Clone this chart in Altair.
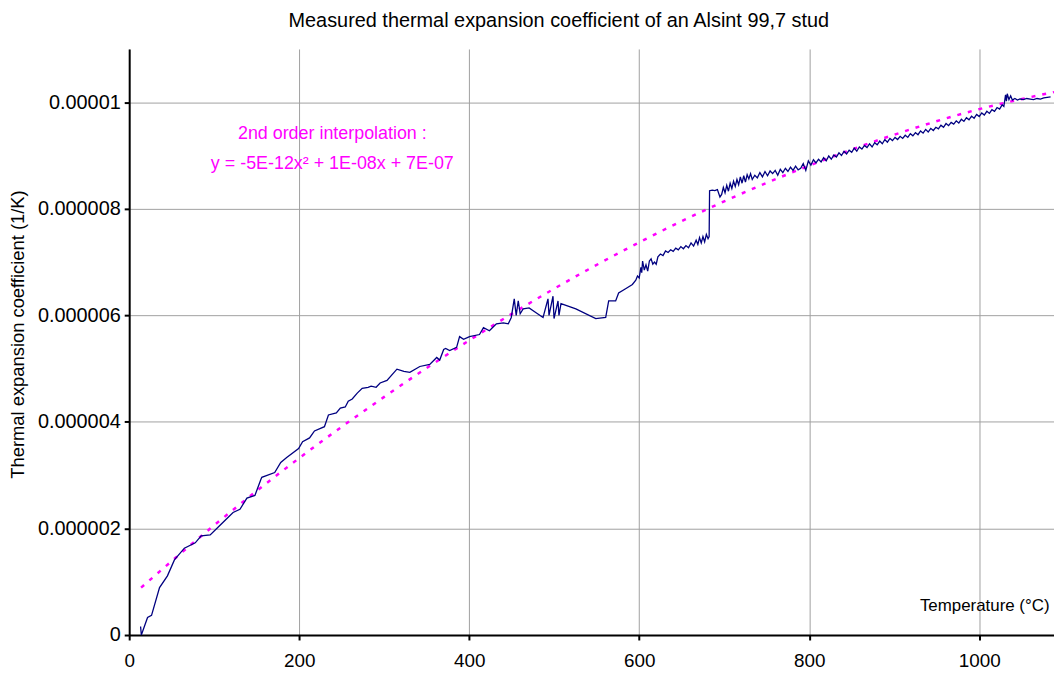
import altair as alt
import pandas as pd

# Measured curve (temperature °C, coefficient in 1e-6 /K)
meas_t = [13.4, 14.3, 21.6, 26.3, 35.7, 45.0, 53.2, 64.9, 77.7, 84.7, 95.3, 108.1, 122.2, 130.3, 138.5,
          147.9, 154.9, 156.0, 171.2, 178.3, 185.3, 199.3, 204.0, 212.2, 218.0, 229.7, 234.4, 243.7, 248.4,
          254.2, 257.7, 262.4, 268.3, 274.1, 281.1, 284.6, 290.5, 295.2, 303.3, 315.0, 323.2, 330.2, 341.9,
          353.6, 361.8, 365.3, 370.0, 372.3, 377.0, 385.2, 388.7, 393.4, 400.4, 412.1, 416.8, 423.8, 432.0,
          440.2, 446.0, 449.5, 453.0, 455.3, 457.7, 460.0, 463.5, 470.5, 478.7, 486.9, 492.7, 493.9, 498.6,
          499.8, 504.5, 505.6, 508.0, 525.5, 548.9, 560.6, 564.1, 572.3, 575.8, 584.0, 592.0,
          596, 598, 600, 602, 603, 604, 606, 608, 610, 612, 614, 616, 618, 620, 622, 625, 628, 631, 634,
          637, 640, 643, 646, 649, 652, 655, 658, 661, 664, 667, 669, 671, 673, 675, 677, 679, 681, 682.3,
          682.8, 686, 689, 692, 695, 697, 699, 701, 703, 705, 707, 709, 711, 713, 715, 717, 719, 721, 723,
          725, 727, 729, 731, 733, 736, 739, 742, 745, 748, 751, 754, 757, 760, 763, 766, 769, 772, 775, 778,
          781, 784, 787, 790, 793, 796, 799, 802, 805, 808, 811, 814, 817, 820, 823, 826, 829, 832, 835, 838,
          841, 844, 847, 850, 853, 856, 859, 862, 865, 868, 871, 874, 877, 880, 883, 886, 889, 892, 895, 898,
          901, 904, 907, 910, 913, 916, 919, 922, 925, 928, 931, 934, 937, 940, 943, 946, 949, 952, 955, 958,
          961, 964, 967, 970, 973, 976, 979, 982, 985, 988, 991, 994, 997, 1000, 1003, 1006, 1009, 1012,
          1015, 1018, 1021, 1024, 1027, 1029, 1031, 1032, 1033, 1035, 1037, 1039, 1042, 1045, 1048, 1052,
          1056, 1060, 1064, 1068, 1072, 1076, 1080, 1084]
meas_v = [0.16, 0.00, 0.33, 0.37, 0.89, 1.11, 1.41, 1.63, 1.73, 1.86, 1.88, 2.08, 2.30, 2.36, 2.57,
          2.62, 2.92, 2.96, 3.05, 3.24, 3.33, 3.50, 3.63, 3.70, 3.83, 3.91, 4.13, 4.17, 4.26,
          4.28, 4.39, 4.43, 4.54, 4.63, 4.65, 4.67, 4.65, 4.73, 4.78, 4.99, 4.95, 4.93, 5.04,
          5.08, 5.21, 5.16, 5.36, 5.38, 5.34, 5.40, 5.60, 5.55, 5.60, 5.64, 5.77, 5.71, 5.84,
          5.86, 5.84, 5.96, 6.31, 6.00, 6.27, 6.03, 6.12, 6.14, 6.05, 5.96, 6.31, 6.00, 6.36,
          5.94, 6.27, 6.00, 6.22, 6.12, 5.94, 5.96, 6.27, 6.27, 6.42, 6.50, 6.58,
          6.66, 6.74, 6.70, 6.90, 6.80, 7.02, 6.85, 6.95, 6.83, 7.02, 7.06, 6.96, 7.00, 6.96, 7.10, 7.15,
          7.12, 7.21, 7.18, 7.23, 7.20, 7.26, 7.23, 7.29, 7.25, 7.31, 7.27, 7.36, 7.30, 7.41, 7.33, 7.46,
          7.36, 7.48, 7.38, 7.52, 7.44, 7.48,
          8.34, 8.35, 8.34, 8.36, 8.22, 8.27, 8.40, 8.30, 8.44, 8.33, 8.48, 8.38, 8.52, 8.42, 8.55, 8.45,
          8.60, 8.48, 8.62, 8.50, 8.64, 8.56, 8.66, 8.55, 8.63, 8.58, 8.68, 8.60, 8.70, 8.62, 8.71, 8.66,
          8.72, 8.63, 8.74, 8.68, 8.76, 8.70, 8.78, 8.72, 8.80, 8.73, 8.76, 8.85, 8.72, 8.90, 8.82, 8.92,
          8.86, 8.93, 8.88, 8.96, 8.90, 8.99, 8.93, 9.01, 8.97, 9.05, 9.00, 9.08, 9.03, 9.10, 9.06, 9.14,
          9.08, 9.16, 9.12, 9.19, 9.15, 9.22, 9.16, 9.24, 9.20, 9.27, 9.22, 9.30, 9.25, 9.32, 9.28, 9.34,
          9.30, 9.36, 9.32, 9.38, 9.34, 9.41, 9.37, 9.43, 9.39, 9.46, 9.42, 9.49, 9.44, 9.51, 9.47, 9.53,
          9.50, 9.57, 9.53, 9.60, 9.56, 9.62, 9.59, 9.65, 9.61, 9.68, 9.64, 9.71, 9.67, 9.74, 9.70, 9.77,
          9.73, 9.80, 9.76, 9.83, 9.79, 9.86, 9.83, 9.90, 9.87, 9.95, 9.92, 10.14, 10.02, 10.16, 10.05,
          10.12, 10.04, 10.07, 10.04, 10.06, 10.05, 10.07, 10.06, 10.05, 10.07, 10.06, 10.08, 10.09, 10.10]

# Trend line
trend_t = [14, 100, 200, 300, 400, 500, 600, 700, 800, 900, 1000, 1088]
trend_v = [0.89, 2.06, 3.32, 4.47, 5.53, 6.50, 7.37, 8.14, 8.81, 9.39, 9.87, 10.19]

x_ticks = [0, 200, 400, 600, 800, 1000]
y_ticks = [0, 0.000002, 0.000004, 0.000006, 0.000008, 0.00001]

FONT = "Liberation Sans"

meas = pd.DataFrame({"t": meas_t, "v": [v * 1e-6 for v in meas_v], "i": list(range(len(meas_t)))})
trend = pd.DataFrame({"t": trend_t, "v": [v * 1e-6 for v in trend_v]})
ann = pd.DataFrame({"t": [239, 239], "v": [9.40e-6, 8.84e-6],
                    "txt": ["2nd order interpolation :", "y = -5E-12x² + 1E-08x + 7E-07"]})

xs = alt.Scale(domain=[0, 1088], nice=False, zero=False)
ys = alt.Scale(domain=[0, 0.000011], nice=False)

x_axis = alt.Axis(values=x_ticks, title="Temperature (°C)", titleAnchor="end", titleAlign="right",
                  titleX=926, titleY=-21, titleBaseline="bottom", titleFontSize=17,
                  titleFontWeight="normal", labelFontSize=19, labelPadding=12, format="d",
                  labelFlush=False)
y_axis = alt.Axis(values=y_ticks, title="Thermal expansion coefficient (1/K)", format=".6~f",
                  titleX=-112, titleY=287, titleAlign="center", titleBaseline="middle",
                  titleAngle=270, titleFontSize=18.5, titleFontWeight="normal",
                  labelFontSize=20, labelPadding=4)

line = alt.Chart(meas).mark_line(color="#000080", strokeWidth=1.3).encode(
    x=alt.X("t:Q", scale=xs, axis=x_axis),
    y=alt.Y("v:Q", scale=ys, axis=y_axis),
    order="i:Q",
)

tl = alt.Chart(trend).mark_line(color="#FF00FF", strokeWidth=2.5, strokeDash=[4, 7],
                                interpolate="monotone").encode(
    x=alt.X("t:Q", scale=xs), y=alt.Y("v:Q", scale=ys)
)

txt = alt.Chart(ann).mark_text(color="#FF00FF", fontSize=18, font=FONT, align="center",
                               baseline="middle").encode(
    x=alt.X("t:Q", scale=xs), y=alt.Y("v:Q", scale=ys), text="txt:N"
)

chart = alt.layer(tl, line, txt).properties(
    width=931, height=590,
    title=alt.TitleParams("Measured thermal expansion coefficient of an Alsint 99,7 stud",
                          fontSize=20, font=FONT, fontWeight="normal", anchor="middle",
                          dx=-33, offset=18, color="#000"),
    autosize=alt.AutoSizeParams(type="none"),
    padding={"left": 122, "top": 39, "right": 0, "bottom": 34},
).configure_view(stroke=None).configure_axis(
    labelFont=FONT, titleFont=FONT, labelColor="#000", titleColor="#000",
    domainColor="#000", domainWidth=2, tickColor="#000", tickWidth=2, tickSize=5,
    gridColor="#a0a0a0", gridWidth=1,
)

chart.save("out.html", embed_options={"renderer": "svg", "actions": False})
